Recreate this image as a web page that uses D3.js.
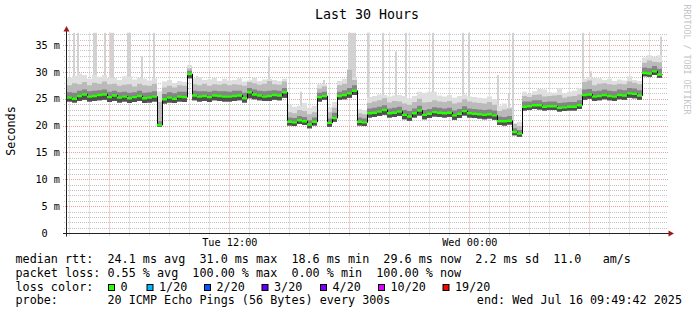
<!DOCTYPE html>
<html><head><meta charset="utf-8">
<script src="https://cdn.jsdelivr.net/npm/d3@7"></script>
<style>
html,body{margin:0;padding:0;background:#fff;}
svg{display:block;}
text{font-family:"DejaVu Sans Mono",monospace;white-space:pre;fill:#000;}
</style></head><body>
<svg id="c" width="697" height="315"></svg>
<script>
// ---------- data ----------
const startTime = new Date(2025, 6, 15, 3, 53);
const endTime = new Date(2025, 6, 16, 9, 53);
const stepMinutes = 15;

const median = [25.3,25.1,25.6,25.9,25.5,25.6,25.8,25.9,25.4,25.7,
25.3,25.5,25.2,25.4,25.6,25.2,25.3,25.5,20.2,25.0,
25.3,25.1,25.5,25.4,29.7,25.7,25.5,25.6,25.4,25.7,
25.6,25.5,25.5,25.6,25.7,25.2,26.3,25.9,25.7,25.5,
25.6,25.8,25.7,26.3,20.8,20.7,21.1,20.9,20.3,20.8,
25.4,25.6,20.6,21.5,25.6,25.8,26.1,26.6,20.8,20.7,
22.4,22.5,22.7,23.0,22.4,22.5,22.7,22.1,21.8,22.4,
22.9,22.1,22.3,22.6,22.5,22.4,22.5,22.0,22.3,22.8,
22.4,22.3,22.2,22.1,22.2,22.0,20.9,20.9,21.0,18.9,
18.6,23.6,23.7,23.9,23.9,23.6,23.7,23.7,23.4,23.5,
23.6,23.6,23.9,25.8,25.9,25.5,25.6,25.8,25.6,25.5,
25.8,25.7,26.1,26.0,25.7,29.9,29.8,30.2,29.6];

const smokeLow = [24.6,24.4,24.7,24.9,24.6,24.7,24.8,24.9,24.5,24.7,
24.4,24.6,24.3,24.5,24.7,24.3,24.4,24.6,19.9,24.2,
24.4,24.3,24.6,24.5,28.9,24.8,24.6,24.7,24.5,24.8,
24.7,24.6,24.6,24.7,24.8,24.4,25.2,25.0,24.8,24.7,
24.7,24.9,24.8,25.3,20.1,20.0,20.4,20.2,19.6,20.1,
24.6,24.9,19.9,20.8,24.9,25.0,25.3,25.8,20.1,20.0,
21.6,21.7,21.9,22.1,21.6,21.7,21.9,21.3,21.0,21.6,
22.0,21.3,21.5,21.8,21.7,21.6,21.7,21.2,21.5,22.0,
21.6,21.5,21.4,21.3,21.4,21.2,20.2,20.1,20.3,18.3,
18.0,22.9,23.0,23.2,23.1,22.9,23.0,23.0,22.7,22.8,
22.9,22.9,23.2,24.9,25.1,24.7,24.8,25.0,24.8,24.7,
25.0,24.9,25.3,25.2,24.9,29.3,29.2,29.5,29.0];

const smokeQ3 = [26.3,26.2,26.6,26.8,26.5,26.6,26.7,26.8,26.4,26.6,
26.3,26.4,26.2,26.3,26.6,26.2,26.3,26.5,20.9,26.0,
26.3,26.1,26.4,26.4,30.3,26.6,26.5,26.5,26.4,26.6,
26.5,26.5,26.4,26.6,26.6,26.2,27.1,26.8,26.6,26.5,
26.6,26.7,26.6,27.1,21.6,21.5,21.9,21.7,21.1,21.6,
26.2,26.4,21.4,22.5,26.4,26.7,27.1,27.6,21.6,21.4,
23.3,23.4,23.6,23.9,23.3,23.4,23.6,23.0,22.8,23.3,
23.8,23.0,23.2,23.5,23.4,23.3,23.4,22.9,23.2,23.7,
23.3,23.2,23.1,23.0,23.1,22.9,21.8,21.7,21.9,19.6,
19.3,24.6,24.6,24.8,24.8,24.5,24.6,24.6,24.3,24.4,
24.5,24.5,24.8,26.8,26.9,26.5,26.6,26.8,26.6,26.5,
26.8,26.7,27.1,27.0,26.7,30.9,30.8,31.2,30.7];

const smokeHigh = [27.6,28.0,27.8,28.2,27.6,28.1,27.9,28.3,27.8,27.9,
27.5,27.7,27.8,27.4,27.9,27.6,27.5,27.9,24.5,27.2,
27.5,27.2,27.6,27.5,30.8,27.8,27.6,27.9,27.5,27.8,
27.7,27.9,27.6,27.8,27.7,27.5,28.2,28.0,27.7,27.9,
28.4,27.8,27.7,28.3,22.6,22.4,23.0,22.8,22.2,22.6,
27.0,27.4,22.6,23.4,27.6,27.9,30.5,28.6,22.4,22.2,
24.3,24.6,24.8,25.2,24.4,24.7,24.6,24.2,24.0,24.5,
25.1,24.4,24.5,24.8,24.6,24.5,24.7,24.2,24.4,25.0,
24.6,24.4,24.3,24.2,24.5,24.0,22.8,23.1,23.3,20.4,
20.0,25.6,25.4,25.8,25.9,25.5,25.6,25.7,25.8,25.3,
25.5,25.6,25.9,28.2,28.5,27.6,27.9,28.0,27.8,27.7,
27.9,27.8,28.3,28.1,27.8,31.8,32.2,32.0,31.9];

const smokeTop = [29.0,29.4,29.8,29.5,28.8,29.6,29.2,29.5,29.0,29.0,
28.6,29.3,29.2,28.7,29.0,28.8,28.5,28.9,26.5,28.3,
28.6,28.0,28.4,28.2,31.4,28.9,29.1,28.6,28.7,29.0,
28.4,28.8,28.5,28.6,28.9,28.3,28.5,29.0,28.4,28.7,
28.8,28.6,28.4,28.8,24.0,23.6,23.8,24.3,23.4,23.8,
27.8,27.8,23.5,24.5,28.4,28.8,28.9,29.0,23.2,23.0,
25.4,25.6,25.9,25.8,25.5,25.7,25.8,25.6,25.2,25.6,
26.4,26.2,26.4,26.4,25.7,25.5,25.8,25.3,25.6,25.9,
25.5,25.4,25.3,25.2,25.5,25.0,23.8,24.2,23.6,20.6,
20.8,26.4,26.0,26.5,26.9,26.8,26.3,26.2,27.1,26.1,
26.4,26.6,27.0,28.8,29.2,29.0,28.9,28.6,28.8,28.4,
28.7,28.5,29.3,28.6,28.4,32.8,33.2,32.9,33.2];

// single-ping outliers: minutes after start, value (ms)
const spikeMinutes = [21,31.5,81,87,114,130.5,136.5,181.5,187.5,225,259.5,309,364.5,390,424.5,
550.5,606,700.5,771,844.5,850.5,858,864,901.5,948,987,1015.5,1096.5,1186.5,1206,
1291.5,1326,1336.5,1546.5,1572,1780.5];
const spikeValues = [37.4,37.4,37.4,37.4,37.4,37.4,37.4,37.4,37.4,33.0,37.4,28.6,31.4,29.3,28.7,
28.5,33.0,26.4,28.6,37.4,37.4,37.4,37.4,37.4,37.4,33.9,37.4,37.4,37.4,37.4,
29.5,26.2,37.4,37.4,30.2,36.7];

const yTickValues = [0, 5, 10, 15, 20, 25, 30, 35];
const yTickLabels = ["0  ", "5 m", "10 m", "15 m", "20 m", "25 m", "30 m", "35 m"];
const xLabelTimes = [new Date(2025, 6, 15, 12, 0), new Date(2025, 6, 16, 0, 0)];
const xLabelTexts = ["Tue 12:00", "Wed 00:00"];

const titleText = "Last 30 Hours";
const yAxisTitle = "Seconds";
const watermark = "RRDTOOL / TOBI OETIKER";
const legendLine1 = "median rtt:  24.1 ms avg  31.0 ms max  18.6 ms min  29.6 ms now  2.2 ms sd  11.0   am/s";
const legendLine2 = "packet loss: 0.55 % avg  100.00 % max  0.00 % min  100.00 % now";
const legendLine3 = "loss color:";
const lossLabels = ["0", "1/20", "2/20", "3/20", "4/20", "10/20", "19/20"];
const lossColors = ["#26ff00", "#00b8ff", "#0059ff", "#5e00ff", "#7e00ff", "#dd00ff", "#ff0000"];
const legendLine4a = "probe:       20 ICMP Echo Pings (56 Bytes) every 300s";
const legendLine4b = "end: Wed Jul 16 09:49:42 2025";

// ---------- layout ----------
const svg = d3.select("#c");
svg.append("rect").attr("width", 697).attr("height", 315).attr("fill", "#fff");
const L = 67, R = 667, T = 33.5, B = 233.5;
const x = d3.scaleTime().domain([startTime, endTime]).range([L, R]);
const y = d3.scaleLinear().domain([0, 37.25]).range([B, T]);

const data = median.map((m, i) => ({
  t: d3.timeMinute.offset(startTime, i * stepMinutes),
  med: m, lo: smokeLow[i], q3: smokeQ3[i], hi: smokeHigh[i], mx: smokeTop[i]
}));
const last = data[data.length - 1];
const dataStep = data.concat([Object.assign({}, last, {t: d3.timeMinute.offset(last.t, stepMinutes)})]);
const spikes = spikeMinutes.map((m, i) => {
  const t = new Date(startTime.getTime() + m * 60000);
  const idx = Math.min(data.length - 1, Math.floor(m / stepMinutes));
  return {t, v: spikeValues[i], base: data[idx].med};
});

// ---------- grid ----------
const grid = svg.append("g");
const snap = v => Math.floor(v) + 0.5;
const minorY = d3.range(1, 38).filter(v => v % 5 !== 0);
grid.selectAll(".hmin").data(minorY).join("line")
  .attr("x1", 64).attr("x2", R + 1)
  .attr("y1", d => snap(y(d))).attr("y2", d => snap(y(d)))
  .attr("stroke", "#c4c4c4").attr("stroke-dasharray", "1,1");
const hours = x.ticks(d3.timeHour.every(1));
grid.selectAll(".vmin").data(hours.filter(h => h.getHours() % 6 !== 0)).join("line")
  .attr("x1", d => snap(x(d))).attr("x2", d => snap(x(d)))
  .attr("y1", T - 1).attr("y2", B + 2)
  .attr("stroke", "#c4c4c4").attr("stroke-dasharray", "1,1");
grid.selectAll(".hmaj").data(yTickValues.filter(v => v > 0)).join("line")
  .attr("x1", 63).attr("x2", R + 1)
  .attr("y1", d => snap(y(d))).attr("y2", d => snap(y(d)))
  .attr("stroke", "#eca0a0").attr("stroke-dasharray", "1,1");
grid.selectAll(".vmaj").data(hours.filter(h => h.getHours() % 6 === 0)).join("line")
  .attr("x1", d => snap(x(d))).attr("x2", d => snap(x(d)))
  .attr("y1", T - 1).attr("y2", B + 3)
  .attr("stroke", "#eca0a0").attr("stroke-dasharray", "1,1");

// ---------- smoke ----------
svg.append("clipPath").attr("id", "clip").append("rect")
  .attr("x", L).attr("y", T - 1).attr("width", R - L + 2).attr("height", B - T + 1);
const plot = svg.append("g").attr("clip-path", "url(#clip)");
plot.selectAll(".spike").data(spikes).join("rect")
  .attr("x", d => Math.round(x(d.t)) - 1).attr("width", 2)
  .attr("y", d => y(d.v)).attr("height", d => y(d.base) - y(d.v))
  .attr("fill", "#d2d2d2");
const band = (lo, hi) => d3.area().x(d => x(d.t)).y0(d => y(d[lo])).y1(d => y(d[hi])).curve(d3.curveStepAfter);
plot.append("path").attr("d", band("lo", "mx")(dataStep)).attr("fill", "#dfdfdf");
plot.append("path").attr("d", band("lo", "hi")(dataStep)).attr("fill", "#bababa");
plot.append("path").attr("d", band("lo", "q3")(dataStep)).attr("fill", "#858585");
plot.append("path").attr("d", band("lo", "med")(dataStep)).attr("fill", "#505050");

// median line (black) and loss-colored band
plot.append("path")
  .attr("d", d3.line().x(d => x(d.t)).y(d => y(d.med)).curve(d3.curveStepAfter)(dataStep))
  .attr("fill", "none").attr("stroke", "#000").attr("stroke-width", 1)
  .attr("transform", "translate(0.5,0)");
plot.append("path")
  .attr("d", d3.area().x(d => x(d.t)).y0(d => y(d.med) + 1.2).y1(d => y(d.med) - 1.2).curve(d3.curveStepAfter)(dataStep))
  .attr("fill", lossColors[0]);

// ---------- axes ----------
const ax = svg.append("g");
ax.append("line").attr("x1", 66.5).attr("x2", 66.5).attr("y1", B + 3).attr("y2", 30)
  .attr("stroke", "#222").attr("stroke-width", 1);
ax.append("line").attr("x1", 63).attr("x2", 670).attr("y1", B).attr("y2", B)
  .attr("stroke", "#222").attr("stroke-width", 1);
ax.append("path").attr("d", "M63.5,31.5 L66.5,26 L69.5,31.5 Z").attr("fill", "#a31818");
ax.append("path").attr("d", "M668.5,230.5 L674,233.5 L668.5,236.5 Z").attr("fill", "#a31818");

// y labels
ax.selectAll(".yl").data(yTickValues).join("text")
  .attr("x", 60).attr("y", d => y(d) + 3.2)
  .attr("text-anchor", "end").attr("font-size", "10.2px")
  .text((d, i) => yTickLabels[i]);
// x labels
ax.selectAll(".xl").data(xLabelTimes).join("text")
  .attr("x", d => x(d) + 0.5).attr("y", 246)
  .attr("text-anchor", "middle").attr("font-size", "10.2px")
  .text((d, i) => xLabelTexts[i]);

// title, unit, watermark
svg.append("text").attr("x", (L + R) / 2).attr("y", 18.5).attr("text-anchor", "middle")
  .attr("font-size", "13.3px").text(titleText);
svg.append("text").attr("transform", "translate(15,131) rotate(-90)").attr("text-anchor", "middle")
  .attr("font-size", "11.75px").text(yAxisTitle);
svg.append("text").attr("transform", "translate(683.5,4.5) rotate(90)")
  .attr("font-size", "8.3px").style("fill", "#c4c4c4").text(watermark);

// ---------- legend ----------
const lg = svg.append("g").attr("font-size", "11.75px");
lg.append("text").attr("x", 15.5).attr("y", 263.3).text(legendLine1);
lg.append("text").attr("x", 15.5).attr("y", 277).text(legendLine2);
lg.append("text").attr("x", 15.5).attr("y", 290.7).text(legendLine3);
const boxX = [108, 146.5, 204, 261.5, 320, 378, 442.5];
lossLabels.forEach((lab, i) => {
  lg.append("rect").attr("x", boxX[i] + 0.5).attr("y", 284.5).attr("width", 6).attr("height", 6)
    .attr("fill", lossColors[i]).attr("stroke", "#000").attr("stroke-width", 1);
  lg.append("text").attr("x", boxX[i] + 12.5).attr("y", 290.7).text(lab);
});
lg.append("text").attr("x", 15.5).attr("y", 304.3).text(legendLine4a);
lg.append("text").attr("x", 682).attr("y", 304.3).attr("text-anchor", "end").text(legendLine4b);
</script>
</body></html>
